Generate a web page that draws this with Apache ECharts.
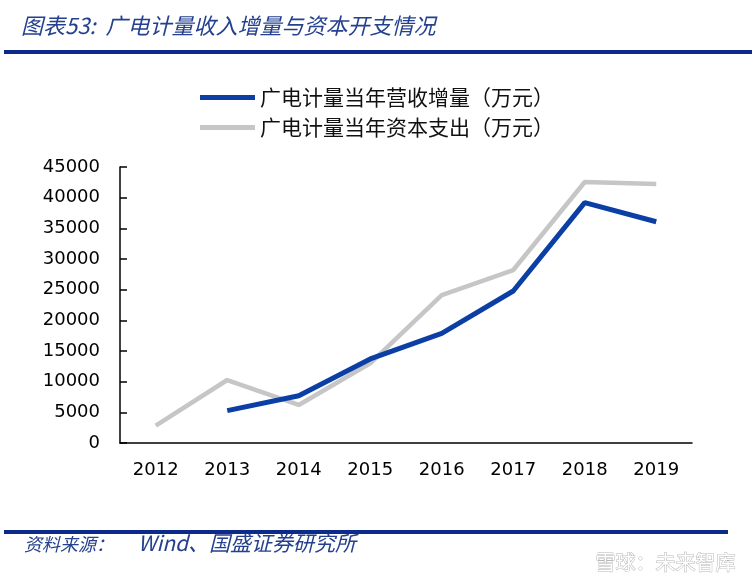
<!DOCTYPE html>
<html>
<head>
<meta charset="utf-8">
<script src="https://cdn.jsdelivr.net/npm/echarts@6/dist/echarts.min.js"></script>
<style>
html,body{margin:0;padding:0;background:#fff;}
#chart{width:756px;height:586px;}
</style>
</head>
<body>
<div id="chart"></div>
<script>
var years = ['2012','2013','2014','2015','2016','2017','2018','2019'];
var revenueIncrease = [null, 5270, 7710, 13700, 17880, 24780, 39180, 36080];
var capex = [2820, 10270, 6200, 13000, 24130, 28200, 42550, 42230];
var seriesNames = ['广电计量当年营收增量（万元）', '广电计量当年资本支出（万元）'];
var titleText = '图表53:  广电计量收入增量与资本开支情况';
var sourceLabel = '资料来源：';
var sourceText = 'Wind、国盛证券研究所';
var watermarkText = '雪球：未来智库';

var chart = echarts.init(document.getElementById('chart'), null, {renderer: 'canvas'});
var blue = '#0c3fa6';
var gray = '#c6c6c6';
var titleBlue = '#24408f';

chart.setOption({
  backgroundColor: '#ffffff',
  animation: false,
  grid: {left: 120, right: 64, top: 167, bottom: 143, containLabel: false},
  legend: {
    orient: 'vertical',
    left: 195,
    top: 82,
    itemWidth: 55,
    itemHeight: 5,
    itemGap: 9,
    icon: 'rect',
    textStyle: {fontSize: 21, lineHeight: 21, color: '#111', fontFamily: 'Noto Sans CJK SC'},
    data: [
      {name: seriesNames[0], itemStyle: {color: blue}},
      {name: seriesNames[1], itemStyle: {color: gray}}
    ]
  },
  xAxis: {
    type: 'category',
    data: years,
    boundaryGap: true,
    axisLine: {lineStyle: {color: '#000', width: 1.5}},
    axisTick: {inside: true, length: 7, lineStyle: {color: '#000', width: 1.5}, alignWithLabel: false},
    axisLabel: {fontSize: 18, color: '#000', margin: 18, fontFamily: 'DejaVu Sans', interval: 0},
    splitLine: {show: false}
  },
  yAxis: {
    type: 'value',
    min: 0,
    max: 45000,
    interval: 5000,
    axisLine: {show: true, lineStyle: {color: '#000', width: 1.5}},
    axisTick: {show: true, inside: true, length: 7, lineStyle: {color: '#000', width: 1.5}},
    axisLabel: {fontSize: 18, color: '#000', margin: 20, fontFamily: 'DejaVu Sans', formatter: function (v) { return String(v); }},
    splitLine: {show: false}
  },
  series: [
    {
      name: seriesNames[1],
      type: 'line',
      data: capex,
      symbol: 'none',
      lineStyle: {color: gray, width: 4.5},
      itemStyle: {color: gray},
      z: 2
    },
    {
      name: seriesNames[0],
      type: 'line',
      data: revenueIncrease,
      symbol: 'none',
      connectNulls: false,
      lineStyle: {color: blue, width: 5},
      itemStyle: {color: blue},
      z: 3
    }
  ],
  graphic: [
    {
      type: 'text', left: 21, top: 15,
      style: {text: titleText, fontSize: 22, fontStyle: 'italic', fill: titleBlue, fontFamily: 'Noto Sans CJK SC'}
    },
    {
      type: 'rect', shape: {x: 4, y: 50, width: 748, height: 4},
      style: {fill: '#0b2a8a'}
    },
    {
      type: 'rect', shape: {x: 4, y: 530, width: 724, height: 4},
      style: {fill: '#0b2a8a'}
    },
    {
      type: 'text', left: 24, top: 535,
      style: {text: sourceLabel, fontSize: 18, fontStyle: 'italic', fill: titleBlue, fontFamily: 'Noto Sans CJK SC'}
    },
    {
      type: 'text', left: 138, top: 533,
      style: {text: sourceText, fontSize: 21, fontStyle: 'italic', fill: titleBlue, fontFamily: 'Noto Sans CJK SC'}
    },
    {
      type: 'text', right: 20, top: 552,
      style: {text: watermarkText, fontSize: 20, fill: '#ffffff', stroke: '#b8b8b8', lineWidth: 1, fontFamily: 'Noto Sans CJK SC'}
    }
  ]
});
</script>
</body>
</html>
